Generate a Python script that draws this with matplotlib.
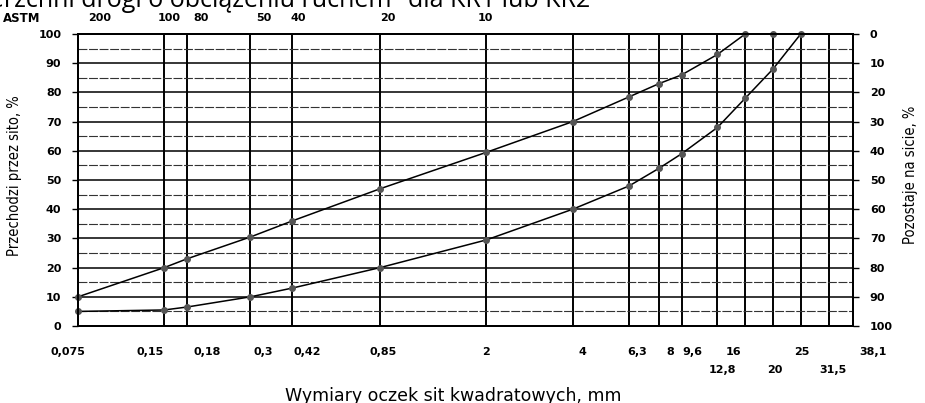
import matplotlib
matplotlib.use('Agg')
import matplotlib.pyplot as plt
import matplotlib.transforms as mtransforms

# dane - krzywe graniczne uziarnienia
sita = [0.075, 0.15, 0.18, 0.3, 0.42, 0.85, 2, 4, 6.3, 8, 9.6, 12.8, 16, 20, 25, 31.5, 38.1]
sita_gorna = [0.075, 0.15, 0.18, 0.3, 0.42, 0.85, 2, 4, 6.3, 8, 9.6, 12.8, 16, 20]
krzywa_gorna = [10, 20, 23, 30.5, 36, 47, 59.5, 70, 78.5, 83, 86, 93, 100, 100]
sita_dolna = [0.075, 0.15, 0.18, 0.3, 0.42, 0.85, 2, 4, 6.3, 8, 9.6, 12.8, 16, 20, 25]
krzywa_dolna = [5, 5.5, 6.5, 10, 13, 20, 29.5, 40, 48, 54, 59, 68, 78, 88, 100]

# etykiety osi x
etykiety_dol = ['0,075', '0,15', '0,18', '0,3', '0,42', '0,85', '2', '4', '6,3', '8', '9,6', '', '16', '', '25', '', '38,1']
etykiety_dol2 = ['', '', '', '', '', '', '', '', '', '', '', '12,8', '', '20', '', '31,5', '']
astm_sita = [0.075, 0.15, 0.18, 0.3, 0.42, 0.85, 2]
astm_nr = ['200', '100', '80', '50', '40', '20', '10']

# przesuniecia etykiet w pikselach (jak na skanie)
przes_dol = [-10, -14, 20, 13, 15, 3, 0, 10, 8, 11, 11, 0, -12, 0, 1, 0, 20]
przes_dol2 = [0, 0, 0, 0, 0, 0, 0, 0, 0, 0, 0, 5, 0, 2, 0, 3, 0]
przes_astm = [22, 5, 14, 13, 6, 8, -1]

fig = plt.figure(figsize=(9.25, 4.03), dpi=100)
ax = fig.add_axes([0.0843, 0.191, 0.838, 0.7246])

ax.set_xscale('log')
ax.set_xlim(0.075, 38.1)
ax.set_ylim(0, 100)
ax.minorticks_off()

# siatka
for s in sita:
    ax.axvline(s, color='black', lw=1.4, zorder=1)
for y in range(10, 100, 10):
    ax.axhline(y, color='black', lw=1.1, zorder=1)
for y in range(5, 100, 10):
    ax.axhline(y, color='#333333', lw=0.8, ls=(0, (8, 1.5)), zorder=1)

# krzywe
ax.plot(sita_gorna, krzywa_gorna, color='black', lw=1.1, marker='o', ms=4,
        mfc='#555555', mec='#555555', zorder=3, clip_on=False)
ax.plot(sita_dolna, krzywa_dolna, color='black', lw=1.1, marker='o', ms=4,
        mfc='#555555', mec='#555555', zorder=3, clip_on=False)

for sp in ax.spines.values():
    sp.set_linewidth(1.4)

ax.set_xticks([])
ax.set_yticks(range(0, 101, 10))
ax.tick_params(axis='y', length=4, width=1, labelsize=8, pad=8)
for t in ax.get_yticklabels():
    t.set_fontweight('bold')

# prawa os
ax2 = ax.twinx()
ax2.set_ylim(100, 0)
ax2.set_yticks(range(0, 101, 10))
ax2.tick_params(axis='y', length=4, width=1, labelsize=8, pad=8)
for t in ax2.get_yticklabels():
    t.set_fontweight('bold')
for sp in ax2.spines.values():
    sp.set_linewidth(1.4)

trans = mtransforms.blended_transform_factory(ax.transData, ax.transAxes)
for s, lab, dx in zip(sita, etykiety_dol, przes_dol):
    ax.annotate(lab, (s, -0.09), xycoords=trans, xytext=(dx * 0.72, 0), textcoords='offset points',
                ha='center', va='center', fontsize=8, fontweight='bold')
for s, lab, dx in zip(sita, etykiety_dol2, przes_dol2):
    ax.annotate(lab, (s, -0.15), xycoords=trans, xytext=(dx * 0.72, 0), textcoords='offset points',
                ha='center', va='center', fontsize=8, fontweight='bold')
for s, lab, dx in zip(astm_sita, astm_nr, przes_astm):
    ax.annotate(lab, (s, 1.055), xycoords=trans, xytext=(dx * 0.72, 0), textcoords='offset points',
                ha='center', va='center', fontsize=8, fontweight='bold')
fig.text(0.044, 0.955, 'ASTM', ha='right', va='center', fontsize=8.5, fontweight='bold')

fig.text(0.016, 0.563, 'Przechodzi przez sito, %', rotation=90, ha='center', va='center',
         fontsize=10.5, family=['DejaVu Sans'], fontstretch='condensed')
fig.text(0.984, 0.565, 'Pozostaje na sicie, %', rotation=90, ha='center', va='center',
         fontsize=10.5, family=['DejaVu Sans'], fontstretch='condensed')
fig.text(0.49, 0.018, 'Wymiary oczek sit kwadratowych, mm', ha='center', va='center',
         fontsize=12.5, family=['DejaVu Sans'])

# naglowek uciety przez krawedz skanu
fig.text(0.638, 0.983, 'nawierzchni drogi o obciążeniu ruchem" dla KR1 lub KR2', ha='right',
         va='baseline', fontsize=18, family=['Open Sans', 'DejaVu Sans'])

fig.savefig('out.png', dpi=100)
